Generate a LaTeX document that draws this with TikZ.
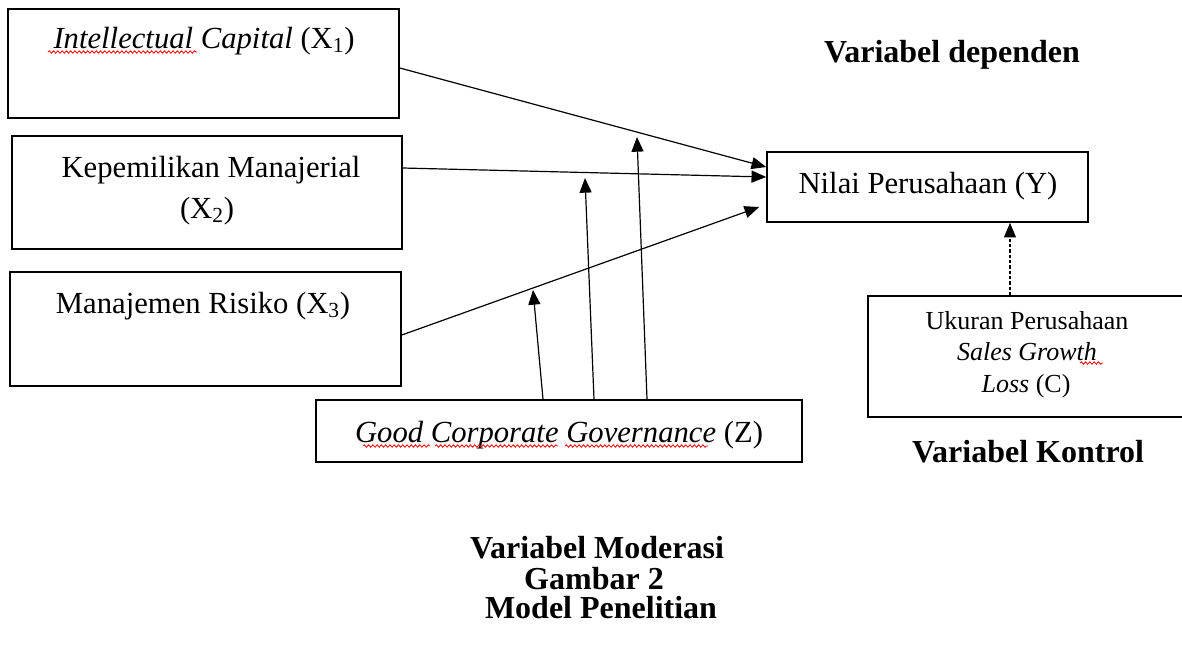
\documentclass[tikz,border=0pt]{standalone}
\usepackage{fontspec}
\setmainfont{Liberation Serif}
\usetikzlibrary{arrows.meta,fit,calc,decorations.pathmorphing}
\tikzset{
  boxnode/.style={draw, line width=1.2pt, inner sep=0pt, fit=#1},
  lbl/.style={anchor=base, inner sep=0pt, font=\fontsize{23}{28}\selectfont},
  small/.style={anchor=base, inner sep=0pt, font=\fontsize{19.5}{23}\selectfont},
  bold/.style={anchor=base, inner sep=0pt, font=\fontsize{24}{29}\selectfont\bfseries},
  conn/.style={line width=0.9pt, -{Triangle[length=11pt,width=9pt]}},
  squig/.style={red, line width=0.6pt, decorate, decoration={snake, segment length=3.2pt, amplitude=0.9pt}}
}
\begin{document}
\begin{tikzpicture}[x=0.75pt,y=-0.75pt]
\useasboundingbox (0,0) rectangle (1182,644);
% box corners
\coordinate (b1a) at (8,9);     \coordinate (b1b) at (399,118);
\coordinate (b2a) at (12,136);  \coordinate (b2b) at (402,249);
\coordinate (b3a) at (10,272);  \coordinate (b3b) at (401,386);
\coordinate (ya)  at (767,152); \coordinate (yb)  at (1088,222);
\coordinate (ca)  at (868,296); \coordinate (cb)  at (1186,417);
\coordinate (za)  at (316,400); \coordinate (zb)  at (802,462);
\node[boxnode={(b1a)(b1b)}] (x1) {};
\node[boxnode={(b2a)(b2b)}] (x2) {};
\node[boxnode={(b3a)(b3b)}] (x3) {};
\node[boxnode={(ya)(yb)}] (y) {};
\node[boxnode={(ca)(cb)}] (c) {};
\node[boxnode={(za)(zb)}] (z) {};
% texts
\node[lbl] (tx1) at (204,48) {\textit{Intellectual Capital} (X\textsubscript{1})};
\node[lbl] (tx2a) at (211,177) {Kepemilikan Manajerial};
\node[lbl] (tx2b) at (207,218) {(X\textsubscript{2})};
\node[lbl] (tx3) at (203,313) {Manajemen Risiko (X\textsubscript{3})};
\node[lbl] (ty) at (928,193) {Nilai Perusahaan (Y)};
\node[small] (tc1) at (1027,329) {Ukuran Perusahaan};
\node[small] (tc2) at (1027,360) {\textit{Sales Growth}};
\node[small] (tc3) at (1026,392) {\textit{Loss} (C)};
\node[lbl] (tz) at (559,442) {\textit{Good Corporate Governance} (Z)};
\node[bold] (ldep) at (952,62) {Variabel dependen};
\node[bold] (lkon) at (1028,462) {Variabel Kontrol};
\node[bold] (lmod) at (597,558) {Variabel Moderasi};
\node[bold] (lgam) at (594,589) {Gambar 2};
\node[bold] (lmodel) at (601,618) {Model Penelitian};
% spell-check underlines
\draw[squig] (48,52) -- (197,52);
\draw[squig] (363,446) -- (430,446);
\draw[squig] (435,446) -- (558,446);
\draw[squig] (565,446) -- (708,446);
\draw[squig] (1080,363) -- (1103,363);
% free ends of the moderating arrows
\coordinate (m1e) at (533,290);
\coordinate (m2e) at (585,178);
\coordinate (m3e) at (637,137);
% connectors
\draw[conn] ($(x1.east)+(0,4.5)$) -- ($(y.west)+(0,-20)$);
\draw[conn] ($(x2.east)+(0,-24.5)$) -- ($(y.west)+(0,-10)$);
\draw[conn] ($(x3.east)+(0,6)$) -- ($(y.west)+(-7,20)$);
\draw[conn] ($(z.north)+(-16,0)$) -- (m1e);
\draw[conn] ($(z.north)+(35,0)$) -- (m2e);
\draw[conn] ($(z.north)+(88,0)$) -- (m3e);
\draw[conn, dashed, dash pattern=on 2.5pt off 1.5pt, line width=0.8pt] ($(c.north)+(-17,0)$) -- ($(y.south)+(82.5,0)$);
\end{tikzpicture}
\end{document}
